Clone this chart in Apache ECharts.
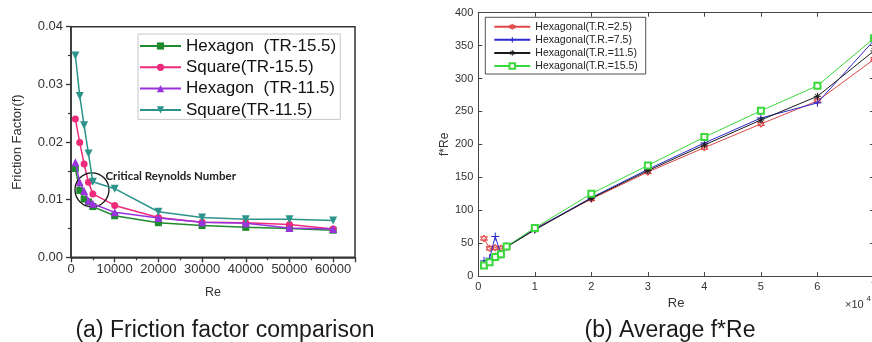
<!DOCTYPE html>
<html><head><meta charset="utf-8">
<script src="https://cdn.jsdelivr.net/npm/echarts@6/dist/echarts.min.js"></script>
<style>html,body{margin:0;padding:0;background:#fff;overflow:hidden;width:872px;height:342px}#c{width:880px;height:342px}</style>
</head><body><div id="c"></div>
<script>
// ---- (a) Friction factor comparison ----
const reA = [1000, 2000, 3000, 4000, 5000, 10000, 20000, 30000, 40000, 50000, 60000];
const hexTR155 = [0.0154, 0.0116, 0.0101, 0.0096, 0.0088, 0.0072, 0.0060, 0.0055, 0.0052, 0.0050, 0.0047];
const sqTR155  = [0.0240, 0.0199, 0.0162, 0.0130, 0.0110, 0.0090, 0.0069, 0.0061, 0.0060, 0.0057, 0.0049];
const hexTR115 = [0.0165, 0.0130, 0.0115, 0.0098, 0.0093, 0.0078, 0.0068, 0.0061, 0.0059, 0.0051, 0.0049];
const sqTR115  = [0.0350, 0.0280, 0.0229, 0.0180, 0.0131, 0.0119, 0.0079, 0.0069, 0.0066, 0.0066, 0.0064];
const namesA = ['Hexagon  (TR-15.5)', 'Square(TR-15.5)', 'Hexagon  (TR-11.5)', 'Square(TR-11.5)'];
const yTicksA = [0, 0.01, 0.02, 0.03, 0.04];
const xTicksA = [0, 10000, 20000, 30000, 40000, 50000, 60000];
const criticalPoint = [4800, 0.0117];
const criticalTextAt = [7900, 0.0141];

// ---- (b) Average f*Re ----
const reB = [0.1, 0.2, 0.3, 0.4, 0.5, 1, 2, 3, 4, 5, 6, 7];
const hexTR25  = [57, 42, 43, 42, 44, 72, 117, 158, 195, 231, 266, 329];
const hexTR75  = [23, 27, 60, 33, 45, 71, 119, 162, 202, 240, 263, 358];
const hexTR115b = [18, 22, 30, 32, 44, 70, 118, 160, 199, 237, 273, 342];
const hexTR155b = [16, 21, 29, 33, 45, 73, 125, 168, 211, 251, 289, 361];
const namesB = ['Hexagonal(T.R.=2.5)', 'Hexagonal(T.R.=7.5)', 'Hexagonal(T.R.=11.5)', 'Hexagonal(T.R.=15.5)'];

const pair = (xs, ys) => xs.map((x, i) => [x, ys[i]]);

const colA = ['#1f8a2e', '#ee2a7b', '#9933dd', '#2b938a'];
const colB = ['#e04848', '#2b2bd0', '#1a1a1a', '#3ad83a'];
const hexagram = 'path://M5,0 L9.33,7.5 L0.67,7.5 Z M5,10 L0.67,2.5 L9.33,2.5 Z';
const plus = 'path://M5,0 L5,10 M0,5 L10,5';
const aster = 'path://M5,0 L5,10 M0,5 L10,5 M1.6,1.6 L8.4,8.4 M8.4,1.6 L1.6,8.4';
const symB = [hexagram, plus, aster, 'emptyRect'];

const chart = echarts.init(document.getElementById('c'), null, {renderer: 'canvas', width: 880, height: 342});

function lineA(i, data, symbol, size, rot) {
  return {
    name: namesA[i], type: 'line', xAxisIndex: 0, yAxisIndex: 0, data: data,
    symbol: symbol, symbolSize: size, symbolRotate: rot || 0,
    lineStyle: {color: colA[i], width: 1.5}, itemStyle: {color: colA[i]},
    z: 3 + i
  };
}
function lineB(i, data, size, filled) {
  return {
    name: namesB[i], type: 'line', xAxisIndex: 1, yAxisIndex: 1, data: data,
    symbol: symB[i], symbolSize: size,
    lineStyle: {color: colB[i], width: 1},
    itemStyle: filled ? {color: colB[i]} : {color: 'rgba(255,255,255,0)', borderColor: colB[i], borderWidth: 1},
    z: 3 + i
  };
}

const axisTxtA = {color: '#333', fontFamily: 'Liberation Sans, Arial', fontSize: 13};
const axisTxtB = {color: '#333', fontFamily: 'Liberation Sans, Arial', fontSize: 11};
const lineStyleB = {color: '#444', width: 1};

const option = {
  animation: false,
  backgroundColor: '#fff',
  title: [
    {text: '(a) Friction factor comparison', left: 220, top: 314, textAlign: 'center',
     textStyle: {fontFamily: 'Liberation Sans, Arial', fontSize: 23, fontWeight: 'normal', color: '#1a1a1a'}},
    {text: '(b) Average f*Re', left: 665, top: 314, textAlign: 'center',
     textStyle: {fontFamily: 'Liberation Sans, Arial', fontSize: 23, fontWeight: 'normal', color: '#1a1a1a'}}
  ],
  grid: [
    {left: 71, top: 26.7, width: 284, height: 230.6, show: true, borderColor: '#333', borderWidth: 1.5, backgroundColor: 'transparent'},
    {left: 478.3, top: 12.7, right: 6, height: 263.3}
  ],
  legend: [
    {data: namesA, orient: 'vertical', left: 138, top: 34, padding: [3.5, 4, 1, 1],
     itemWidth: 41, itemHeight: 9, itemGap: 4.3, borderColor: '#c8c8c8', borderWidth: 1, backgroundColor: '#fff',
     textStyle: {fontFamily: 'Liberation Sans, Arial', fontSize: 17, lineHeight: 17, color: '#111'}},
    {data: namesB.map((n, i) => (i === 3 ? n : {name: n, itemStyle: {color: 'rgba(255,255,255,0)', borderColor: colB[i], borderWidth: 1}})),
     orient: 'vertical', left: 485.3, top: 17.3, padding: [3.9, 8, 2.5, 8],
     itemWidth: 36, itemHeight: 7, itemGap: 2.1, borderColor: '#222', borderWidth: 0.8, backgroundColor: '#fff',
     textStyle: {fontFamily: 'Liberation Sans, Arial', fontSize: 10.5, lineHeight: 11, color: '#222'}}
  ],
  xAxis: [
    {gridIndex: 0, type: 'value', min: 0, max: 65000, interval: 10000,
     name: 'Re', nameLocation: 'middle', nameGap: 29, nameTextStyle: {fontFamily: 'Liberation Sans, Arial', fontSize: 12.5, color: '#333'},
     axisLine: {show: true, lineStyle: {color: '#333', width: 1.5}},
     axisTick: {show: true, inside: false, length: 5, lineStyle: {color: '#333', width: 1.3}},
     minorTick: {show: true, splitNumber: 2, length: 3, lineStyle: {color: '#333', width: 1.2}},
     splitLine: {show: false},
     axisLabel: Object.assign({margin: 6, formatter: v => (xTicksA.indexOf(v) >= 0 ? String(v) : '')}, axisTxtA)},
    {gridIndex: 1, type: 'value', min: 0, max: 7, interval: 1,
     name: 'Re', nameLocation: 'middle', nameGap: 20, nameTextStyle: {fontFamily: 'Liberation Sans, Arial', fontSize: 13, color: '#333'},
     axisLine: {show: true, lineStyle: lineStyleB},
     axisTick: {show: true, inside: true, length: 4, lineStyle: lineStyleB},
     splitLine: {show: false},
     axisLabel: Object.assign({margin: 5}, axisTxtB)},
    {gridIndex: 1, type: 'value', min: 0, max: 7, interval: 1, position: 'top',
     axisLine: {show: true, onZero: false, lineStyle: lineStyleB},
     axisTick: {show: true, inside: true, length: 4, lineStyle: lineStyleB},
     splitLine: {show: false}, axisLabel: {show: false}}
  ],
  yAxis: [
    {gridIndex: 0, type: 'value', min: 0, max: 0.04, interval: 0.01,
     name: 'Friction Factor(f)', nameLocation: 'middle', nameGap: 47, nameTextStyle: {fontFamily: 'Liberation Sans, Arial', fontSize: 13, color: '#333'},
     axisLine: {show: true, lineStyle: {color: '#333', width: 1.5}},
     axisTick: {show: true, inside: false, length: 5, lineStyle: {color: '#333', width: 1.3}},
     minorTick: {show: true, splitNumber: 2, length: 3, lineStyle: {color: '#333', width: 1.2}},
     splitLine: {show: false},
     axisLabel: Object.assign({margin: 8, formatter: v => (yTicksA.some(t => Math.abs(t - v) < 1e-9) ? v.toFixed(2) : '')}, axisTxtA)},
    {gridIndex: 1, type: 'value', min: 0, max: 400, interval: 50,
     name: 'f*Re', nameLocation: 'middle', nameGap: 26, nameTextStyle: {fontFamily: 'Liberation Sans, Arial', fontSize: 12, color: '#333'},
     axisLine: {show: true, lineStyle: lineStyleB},
     axisTick: {show: true, inside: true, length: 4, lineStyle: lineStyleB},
     splitLine: {show: false},
     axisLabel: Object.assign({margin: 5}, axisTxtB)},
    {gridIndex: 1, type: 'value', min: 0, max: 400, interval: 50, position: 'right',
     axisLine: {show: true, onZero: false, lineStyle: lineStyleB},
     axisTick: {show: true, inside: true, length: 4, lineStyle: lineStyleB},
     splitLine: {show: false}, axisLabel: {show: false}}
  ],
  series: [
    lineA(0, pair(reA, hexTR155), 'rect', 7),
    lineA(1, pair(reA, sqTR155), 'circle', 7),
    lineA(2, pair(reA, hexTR115), 'triangle', 8),
    Object.assign(lineA(3, pair(reA, sqTR115), 'triangle', 8, 180), {
      markPoint: {
        silent: true,
        data: [
          {coord: criticalPoint, symbol: 'circle', symbolSize: 34,
           itemStyle: {color: 'rgba(0,0,0,0)', borderColor: '#111', borderWidth: 1.3}, label: {show: false}},
          {coord: criticalTextAt, symbol: 'circle', symbolSize: 0,
           label: {show: true, position: 'right', distance: 0, formatter: 'Critical Reynolds Number',
                   fontFamily: 'Lato, Liberation Sans', fontWeight: 'bold', fontSize: 11.5, color: '#222'}}
        ]
      }
    }),
    lineB(0, pair(reB, hexTR25), 7, false),
    lineB(1, pair(reB, hexTR75), 8, false),
    lineB(2, pair(reB, hexTR115b), 7, false),
    lineB(3, pair(reB, hexTR155b), 6, true)
  ],
  graphic: [
    {type: 'text', left: 845, top: 299, style: {text: '\u00d710', fill: '#333', font: '11px "Liberation Sans", Arial'}},
    {type: 'text', left: 866.5, top: 295, style: {text: '4', fill: '#333', font: '8px "Liberation Sans", Arial'}}
  ]
};
chart.setOption(option);
</script></body></html>
